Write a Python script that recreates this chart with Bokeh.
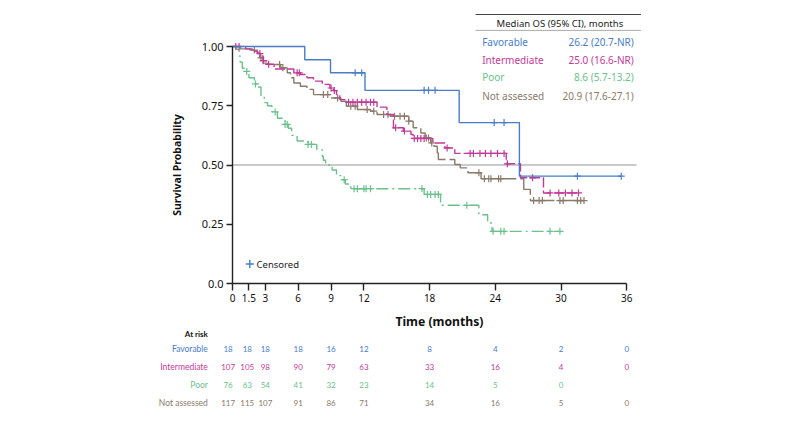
import numpy as np
from math import pi
from bokeh.plotting import figure
from bokeh.models import FixedTicker, Range1d, CustomJSTickFormatter
from bokeh.core.properties import value
from bokeh.embed import file_html
from bokeh.resources import INLINE

# ---------------- data ----------------
groups = ["Favorable", "Intermediate", "Poor", "Not assessed"]
colors = ["#4a7cc8", "#c23a98", "#6cc08c", "#8a7a6a"]
dashes = ["solid", "10 3", "12 4 2 4", "26 4"]

fav_t = [0, 6.6, 8.95, 12.1, 20.7, 26.2]
fav_s = [1.0, 0.944, 0.889, 0.815, 0.679, 0.453]
fav_end = 35.5
fav_cens = [11.2, 11.8, 17.5, 17.9, 18.5, 23.9, 24.8, 31.5, 35.5]

int_t = [0, 1.2, 1.8, 2.3, 2.6, 2.8, 3.2, 3.8, 5.6, 6.2, 6.8, 7.4, 8.2, 8.9, 9.2,
         9.5, 9.8, 10.4, 13.2, 14.1, 14.7, 15.6, 16.3, 16.5, 18.3, 19.4, 20.3,
         25.0, 26.3, 28.4]
int_s = [1.0, 0.99, 0.98, 0.97, 0.96, 0.94, 0.925, 0.905, 0.889, 0.882, 0.868,
         0.854, 0.84, 0.825, 0.814, 0.797, 0.776, 0.765, 0.744, 0.713, 0.657,
         0.643, 0.629, 0.612, 0.593, 0.572, 0.549, 0.505, 0.446, 0.382]
int_end = 31.6
int_cens = [0.3, 0.6, 2.5, 2.8, 3.3, 5.9, 6.1, 9.0, 9.3, 10.6, 11.0, 11.4, 11.8,
            12.2, 12.6, 12.9, 14.9, 15.7, 16.6, 16.9, 17.2, 17.5, 19.6, 21.7,
            22.0, 22.6, 23.1, 23.6, 24.2, 24.8, 25.1, 27.4, 29.0, 29.8, 30.4,
            31.0, 31.6]

poor_t = [0, 0.4, 0.6, 0.7, 0.9, 1.2, 1.5, 2.0, 2.2, 2.6, 2.9, 3.2, 3.6, 4.1,
          4.8, 5.1, 5.4, 5.9, 6.9, 7.7, 8.2, 8.3, 8.5, 9.1, 9.5, 10.0, 10.3,
          10.8, 17.5, 19.0, 22.5, 23.3, 23.7]
poor_s = [1.0, 0.987, 0.96, 0.934, 0.908, 0.895, 0.868, 0.842, 0.829, 0.79,
          0.763, 0.75, 0.724, 0.697, 0.671, 0.655, 0.625, 0.601, 0.587, 0.565,
          0.537, 0.52, 0.5, 0.479, 0.455, 0.438, 0.42, 0.4, 0.376, 0.33, 0.29,
          0.255, 0.22]
poor_end = 29.9
poor_cens = [1.3, 2.1, 3.9, 4.8, 5.0, 6.9, 7.2, 10.2, 11.1, 11.4, 12.0, 12.2,
             12.6, 17.3, 17.8, 18.1, 18.5, 18.8, 21.4, 23.8, 24.5, 24.8, 29.0,
             29.9]

na_t = [0, 0.7, 1.6, 2.2, 2.5, 2.8, 3.2, 4.4, 5.0, 5.3, 5.6, 6.2, 6.8, 7.4, 8.9,
        9.9, 10.4, 11.4, 12.6, 13.2, 14.4, 16.1, 16.5, 17.2, 17.6, 18.1, 18.4,
        18.7, 18.8, 20.3, 20.8, 21.5, 22.7, 26.6, 27.2]
na_s = [1.0, 0.99, 0.985, 0.973, 0.952, 0.93, 0.924, 0.91, 0.889, 0.868, 0.846,
        0.832, 0.819, 0.797, 0.783, 0.769, 0.748, 0.734, 0.727, 0.713, 0.706,
        0.685, 0.657, 0.635, 0.614, 0.593, 0.579, 0.551, 0.523, 0.502, 0.488,
        0.467, 0.442, 0.397, 0.35]
na_end = 32.1
na_cens = [2.0, 2.6, 4.3, 4.6, 8.3, 8.7, 9.6, 10.8, 11.2, 12.3, 12.9, 13.8,
           14.2, 14.8, 15.3, 15.7, 16.1, 17.7, 17.9, 18.2, 22.5, 23.0, 23.4,
           23.6, 24.3, 24.5, 27.5, 28.0, 28.3, 29.9, 30.2, 31.5, 31.8, 32.1]

median_os = ["26.2 (20.7-NR)", "25.0 (16.6-NR)", "8.6 (5.7-13.2)", "20.9 (17.6-27.1)"]

risk_times = [0, 1.5, 3, 6, 9, 12, 18, 24, 30, 36]
risk_fav = [18, 18, 18, 18, 16, 12, 8, 4, 2, 0]
risk_int = [107, 105, 98, 90, 79, 63, 33, 16, 4, 0]
risk_poor = [76, 63, 54, 41, 32, 23, 14, 5, 0]
risk_na = [117, 115, 107, 91, 86, 71, 34, 16, 5, 0]

x_ticks = [0, 1.5, 3, 6, 9, 12, 18, 24, 30, 36]
y_ticks = [0, 0.25, 0.5, 0.75, 1.0]

series = [
    (fav_t, fav_s, fav_end, fav_cens),
    (int_t, int_s, int_end, int_cens),
    (poor_t, poor_s, poor_end, poor_cens),
    (na_t, na_s, na_end, na_cens),
]
risks = [risk_fav, risk_int, risk_poor, risk_na]

# ---------------- figure ----------------
FONT = "Noto Sans"
RFONT = "Lato"
W, H = 789, 440
PX_X, PX_Y = 10.95, 237.0          # pixels per month / per unit of survival
X0, Y0 = 232.0, 283.0              # page position of the origin
p = figure(width=W, height=H,
           x_range=Range1d(-X0 / PX_X, (W - X0) / PX_X),
           y_range=Range1d((Y0 - H) / PX_Y, Y0 / PX_Y),
           output_backend="svg", toolbar_location=None,
           min_border_left=0, min_border_right=0, min_border_top=0, min_border_bottom=0)
p.outline_line_color = None
p.xgrid.visible = False
p.ygrid.visible = False

for ax in (p.xaxis[0], p.yaxis[0]):
    ax.fixed_location = 0
    ax.axis_line_color = "#222222"
    ax.axis_line_width = 1.4
    ax.major_tick_line_color = "#222222"
    ax.major_tick_line_width = 1.4
    ax.major_tick_in = 0
    ax.minor_tick_line_color = None
    ax.major_label_text_font = FONT
    ax.major_label_text_color = "#111111"

p.xaxis.ticker = FixedTicker(ticks=x_ticks)
p.xaxis.formatter = CustomJSTickFormatter(code="return tick.toString();")
p.xaxis.bounds = (0, 36)
p.xaxis.major_tick_out = 7
p.xaxis.major_label_standoff = 3
p.xaxis.major_label_text_font_size = "10px"

p.yaxis.ticker = FixedTicker(ticks=y_ticks)
p.yaxis.formatter = CustomJSTickFormatter(code="return tick == 0 ? '0.0' : tick.toFixed(2);")
p.yaxis.bounds = (0, 1)
p.yaxis.major_tick_out = 6
p.yaxis.major_label_standoff = 3
p.yaxis.major_label_text_font_size = "11px"

# reference line at median
p.segment(x0=[0], y0=[0.5], x1=[36.9], y1=[0.5], line_color="#b8b8b8", line_width=1.5)


def txt(x, y, s, color="#111111", size="10px", align="left", font=FONT,
        style="normal", angle=0.0):
    p.text(x=[x], y=[y], text=[s], text_color=color, text_font=value(font),
           text_font_size=value(size), text_align=align, text_baseline="middle",
           text_font_style=style, angle=angle)


# axis titles
txt(-5.1, 0.5, "Survival Probability", size="10.5px", align="center",
    style="bold", angle=pi / 2)
txt(18.9, -0.161, "Time (months)", size="12.2px", align="center", style="bold")


def surv_at(t, s, x):
    idx = np.searchsorted(np.asarray(t), x, side="right") - 1
    return np.asarray(s)[idx]


order = [2, 3, 1, 0]
for i in order:
    t, s, end, cens = series[i]
    xs = list(t) + [end]
    ys = list(s) + [s[-1]]
    p.step(xs, ys, mode="after", line_color=colors[i], line_width=1.4,
           line_dash=dashes[i])
    cy = surv_at(t, s, np.asarray(cens))
    p.scatter(cens, cy, marker="cross", size=7, line_color=colors[i], line_width=1.2)

# censored legend
p.scatter([1.58], [0.082], marker="cross", size=8, line_color=colors[0], line_width=1.4)
txt(2.2, 0.082, "Censored", color="#222222", size="9.5px")

# median table
p.segment(x0=[22.2], y0=[1.135], x1=[37.3], y1=[1.135], line_color="#444444", line_width=1.2)
p.segment(x0=[22.2], y0=[1.068], x1=[37.3], y1=[1.068], line_color="#aaaaaa", line_width=1)
txt(29.9, 1.098, "Median OS (95% CI), months", color="#222222", size="9.5px", align="center")
row_y = [1.018, 0.944, 0.871, 0.793]
for i, g in enumerate(groups):
    txt(22.8, row_y[i], g, color=colors[i], size="10px")
    txt(36.65, row_y[i], median_os[i], color=colors[i], size="10px", align="right")

# at-risk table
txt(-2.25, -0.212, "At risk", size="8px", align="right", font=RFONT, style="bold")
risk_y = [-0.278, -0.353, -0.43, -0.504]
shift = {0: -0.4, 1.5: -0.15}
for i, g in enumerate(groups):
    txt(-2.25, risk_y[i], g, color=colors[i], size="8.5px", align="right", font=RFONT)
    for tt, n in zip(risk_times, risks[i]):
        txt(tt + shift.get(tt, 0), risk_y[i], str(n), color=colors[i], size="8px",
            align="center", font=RFONT)

open("out.html", "w").write(file_html(p, INLINE))
